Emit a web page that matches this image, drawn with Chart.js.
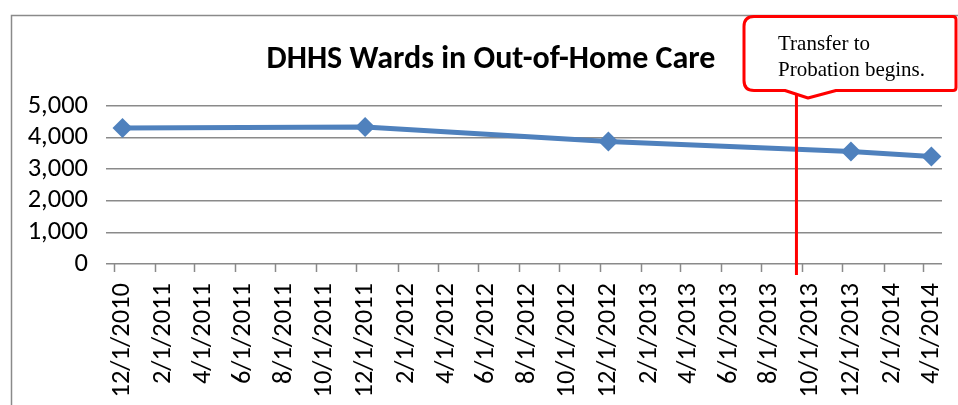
<!DOCTYPE html>
<html lang="en">
  <head>
    <meta charset="UTF-8" />
    <title>DHHS Wards in Out-of-Home Care</title>
    <script src="https://cdn.jsdelivr.net/npm/chart.js"></script>
    <style>
      body {
        margin: 0;
        background-color: #ffffff;
      }

      #wrap {
        width: 958px;
        height: 405px;
        position: relative;
      }
    </style>
  </head>
  <body>
    <div id="wrap">
      <canvas id="wardsChart"></canvas>
    </div>

    <script>
      // Dates of the counts and the counts themselves
      const pointDates = ["12/1/2010", "12/1/2011", "12/1/2012", "12/1/2013", "4/1/2014"];
      const wardCounts = [4300, 4330, 3875, 3555, 3400];

      // Axis labels, every two months
      const tickDates = [
        "12/1/2010", "2/1/2011", "4/1/2011", "6/1/2011", "8/1/2011", "10/1/2011",
        "12/1/2011", "2/1/2012", "4/1/2012", "6/1/2012", "8/1/2012", "10/1/2012",
        "12/1/2012", "2/1/2013", "4/1/2013", "6/1/2013", "8/1/2013", "10/1/2013",
        "12/1/2013", "2/1/2014", "4/1/2014",
      ];
      const yTicks = [0, 1000, 2000, 3000, 4000, 5000];

      const transferDate = "9/10/2013";
      const calloutLines = ["Transfer to", "Probation begins."];

      // days counted from 12/1/2010
      function toDay(s) {
        const [m, d, y] = s.split("/").map(Number);
        return (Date.UTC(y, m - 1, d) - Date.UTC(2010, 11, 1)) / 86400000;
      }

      const tickDays = tickDates.map(toDay);
      const tickShiftDays = -13; // excel puts its tick marks a bit before the label
      const gridGray = "#8a8a8a";
      const lineBlue = "#4F81BD";
      const labelFont = "Carlito, Calibri, sans-serif";

      // outer chart frame
      const framePlugin = {
        id: "frame",
        afterLayout(chart) {
          // let the y labels use the space left of the scale box
          chart.scales.y.left = 0;
        },
        beforeDraw(chart) {
          const ctx = chart.ctx;
          ctx.save();
          ctx.strokeStyle = gridGray;
          ctx.lineWidth = 1.5;
          ctx.beginPath();
          ctx.moveTo(11.5, chart.height + 2);
          ctx.lineTo(11.5, 15.5);
          ctx.lineTo(chart.width + 2, 15.5);
          ctx.stroke();
          ctx.restore();
        },
      };

      // small x tick marks below the axis
      const xTickMarks = {
        id: "xTickMarks",
        afterDraw(chart) {
          const ctx = chart.ctx;
          const xs = chart.scales.x;
          const bottom = chart.chartArea.bottom;
          ctx.save();
          ctx.strokeStyle = gridGray;
          ctx.lineWidth = 1.5;
          ctx.beginPath();
          tickDays.forEach((d) => {
            const px = Math.round(xs.getPixelForValue(d + tickShiftDays)) + 0.5;
            ctx.moveTo(px, bottom);
            ctx.lineTo(px, bottom + 8);
          });
          ctx.stroke();
          ctx.restore();
        },
      };

      // red marker line and speech bubble
      const calloutPlugin = {
        id: "callout",
        afterDraw(chart) {
          const ctx = chart.ctx;
          const xs = chart.scales.x;
          const lx = xs.getPixelForValue(toDay(transferDate));
          ctx.save();

          ctx.strokeStyle = "#ff0000";
          ctx.lineWidth = 3;
          ctx.beginPath();
          ctx.moveTo(lx, 94);
          ctx.lineTo(lx, chart.chartArea.bottom + 11);
          ctx.stroke();

          const left = 744, top = 16.5, right = 956, bottom = 90.5, r = 10;
          ctx.beginPath();
          ctx.moveTo(left + r, top);
          ctx.lineTo(right - 3, top);
          ctx.quadraticCurveTo(right, top, right, top + 3);
          ctx.lineTo(right, bottom - 3);
          ctx.quadraticCurveTo(right, bottom, right - 3, bottom);
          ctx.lineTo(836, bottom);
          ctx.lineTo(808, 98);
          ctx.lineTo(785, bottom);
          ctx.lineTo(left + r, bottom);
          ctx.quadraticCurveTo(left, bottom, left, bottom - r);
          ctx.lineTo(left, top + r);
          ctx.quadraticCurveTo(left, top, left + r, top);
          ctx.closePath();
          ctx.fillStyle = "#ffffff";
          ctx.fill();
          ctx.lineWidth = 3;
          ctx.lineJoin = "round";
          ctx.stroke();

          ctx.fillStyle = "#000000";
          ctx.font = '21px "Liberation Serif", "Times New Roman", serif';
          ctx.textBaseline = "alphabetic";
          ctx.fillText(calloutLines[0], 778, 50);
          ctx.fillText(calloutLines[1], 778, 76);
          ctx.restore();
        },
      };

      const ctx = document.getElementById("wardsChart").getContext("2d");

      new Chart(ctx, {
        type: "line",
        data: {
          datasets: [
            {
              label: "DHHS Wards",
              data: pointDates.map((d, i) => ({ x: toDay(d), y: wardCounts[i] })),
              borderColor: lineBlue,
              backgroundColor: lineBlue,
              borderWidth: 5,
              pointStyle: "rectRot",
              pointRadius: 10,
              pointBorderWidth: 0,
              tension: 0,
              clip: false,
            },
          ],
        },
        options: {
          responsive: true,
          maintainAspectRatio: false,
          animation: false,
          layout: { padding: { left: 40, right: 16, top: 0, bottom: 0 } },
          plugins: {
            legend: { display: false },
            tooltip: { enabled: false },
            title: {
              display: true,
              text: "DHHS Wards in Out-of-Home Care",
              color: "#000000",
              font: { family: labelFont, weight: "bold", size: 32, lineHeight: 1.2 },
              padding: { top: 40.5, bottom: 27 },
            },
          },
          scales: {
            x: {
              type: "linear",
              min: -12.8,
              max: 1233,
              afterBuildTicks(scale) {
                scale.ticks = tickDays.map((v) => ({ value: v }));
              },
              afterFit(scale) {
                scale.height = 141;
                scale.paddingLeft = 0;
                scale.paddingRight = 0;
              },
              ticks: {
                autoSkip: false,
                minRotation: 90,
                maxRotation: 90,
                padding: 19,
                color: "#000000",
                font: { family: labelFont, size: 26.5 },
                callback: (value, index) => tickDates[index],
              },
              grid: { display: true, drawOnChartArea: false, drawTicks: false },
              border: { display: false },
            },
            y: {
              min: 0,
              max: 5000,
              afterBuildTicks(scale) {
                scale.ticks = yTicks.map((v) => ({ value: v }));
              },
              afterFit(scale) {
                scale.width = 74;
                scale.paddingTop = 0;
                scale.paddingBottom = 0;
              },
              ticks: {
                autoSkip: false,
                padding: 18,
                color: "#000000",
                font: { family: labelFont, size: 26.5 },
                callback: (value) => value.toLocaleString("en-US"),
              },
              grid: { color: gridGray, lineWidth: 1.5, tickLength: 8 },
              border: { display: false },
            },
          },
        },
        plugins: [framePlugin, xTickMarks, calloutPlugin],
      });
    </script>
  </body>
</html>
